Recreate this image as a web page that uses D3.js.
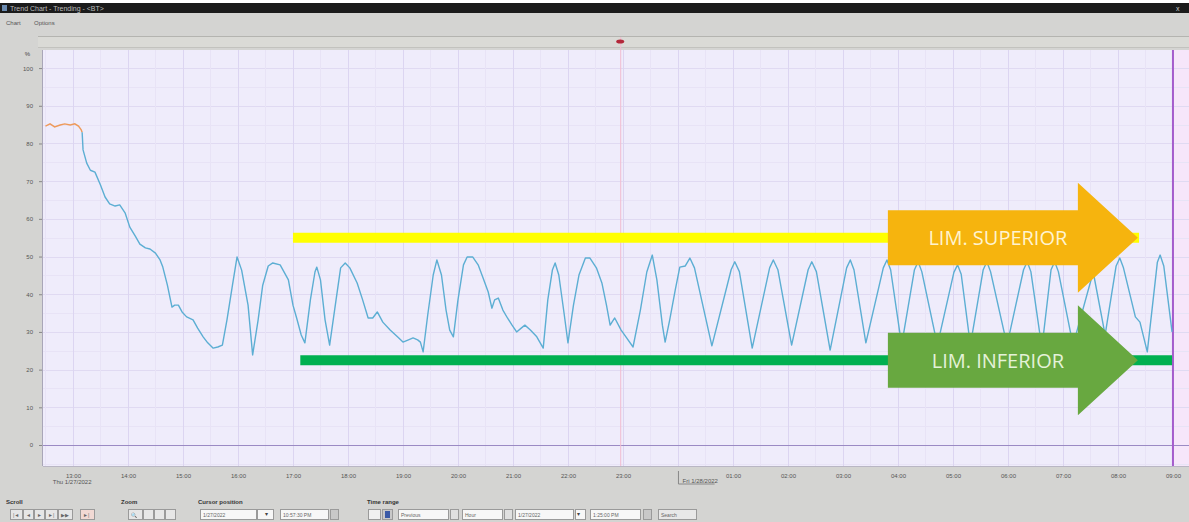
<!DOCTYPE html>
<html>
<head>
<meta charset="utf-8">
<script src="https://cdn.jsdelivr.net/npm/d3@7"></script>
<style>
  html, body { margin: 0; padding: 0; background: #fff; }
  svg { display: block; font-family: "Liberation Sans", Arial, sans-serif; }
</style>
</head>
<body>
<div id="chart"></div>
<script>
// time is minutes after 13:00 Thu 1/27/2022, value in %
const startupTimes = [-30, -25, -20, -14, -9, -3, 2, 6, 9, 10];
const startupValues = [84.6, 85.2, 84.4, 84.9, 85.2, 84.9, 85.2, 84.6, 83.6, 83.0];

const trendTimes = [
  10, 11, 15, 19, 24, 30, 35, 40, 46, 51, 57, 62, 68, 73, 79, 84, 90, 95, 98, 103,
  108, 111, 115, 119, 124, 131, 136, 142, 147, 153, 158, 163, 168, 174, 179, 184, 191, 196, 202, 207,
  213, 218, 226, 235, 240, 244, 249, 253, 259, 264, 266, 270, 275, 280, 287, 292, 297, 302, 310, 316,
  322, 327, 332, 338, 346, 354, 360, 366, 371, 376, 379, 382, 387, 393, 397, 402, 407, 411, 415, 420,
  426, 430, 436, 442, 447, 453, 457, 460, 464, 469, 474, 479, 484, 489, 493, 499, 506, 513, 518, 523,
  526, 530, 536, 540, 546, 552, 559, 564, 571, 577, 582, 586, 591, 598, 604, 611, 619, 626, 632, 637,
  643, 646, 651, 657, 662, 668, 673, 678, 697, 718, 722, 727, 741, 760, 764, 769, 784, 802, 806, 811,
  826, 844, 848, 852, 865, 884, 888, 892, 904, 918, 922, 926, 943, 961, 965, 969, 979, 993, 997, 1001,
  1019, 1037, 1041, 1045, 1057, 1067, 1071, 1075, 1091, 1113, 1126, 1138, 1142, 1146, 1159, 1164, 1172, 1183, 1186, 1190,
  1199
];
const trendValues = [
  83.0, 78.3, 74.8, 72.9, 72.4, 69.0, 65.8, 64.0, 63.4, 63.7, 61.5, 57.8, 55.4, 53.3, 52.3, 52.0, 50.9, 49.1, 47.2, 42.4,
  36.6, 37.1, 37.1, 35.3, 34.0, 33.2, 31.0, 28.7, 27.1, 25.7, 26.0, 26.5, 33.2, 42.4, 49.9, 46.4, 37.1, 23.9, 33.2, 42.4,
  47.5, 48.3, 47.8, 43.8, 37.1, 33.7, 29.2, 27.1, 38.5, 45.9, 47.2, 43.8, 33.2, 26.5, 38.5, 47.0, 48.3, 47.0, 43.0, 38.5,
  33.7, 33.7, 35.3, 32.6, 30.5, 28.7, 27.3, 27.9, 28.4, 27.9, 27.3, 24.7, 34.5, 45.1, 49.1, 45.1, 35.8, 30.5, 28.7, 38.5,
  47.8, 49.9, 49.9, 47.8, 44.6, 40.6, 36.3, 38.5, 39.0, 35.8, 33.7, 31.8, 30.0, 31.0, 31.8, 30.5, 28.7, 25.7, 38.5, 46.4,
  48.3, 45.1, 34.5, 27.1, 37.1, 45.1, 49.6, 49.6, 47.0, 43.0, 37.1, 31.8, 33.7, 30.5, 28.4, 26.0, 35.8, 45.9, 50.4, 43.8,
  31.8, 27.3, 33.2, 41.1, 47.2, 47.5, 49.6, 47.0, 26.3, 46.5, 48.6, 46.0, 25.7, 47.0, 49.1, 46.5, 26.5, 46.5, 48.6, 46.0,
  25.2, 47.0, 49.1, 46.5, 27.1, 47.0, 49.1, 46.5, 26.5, 46.5, 48.6, 46.0, 26.5, 45.8, 47.8, 45.3, 26.5, 46.5, 48.6, 46.0,
  26.5, 46.5, 48.6, 46.0, 25.7, 46.5, 48.6, 46.0, 26.5, 45.9, 29.2, 47.5, 49.6, 47.0, 34.0, 32.6, 24.7, 48.5, 50.4, 47.5,
  30.0
];

const yTicks = [0, 10, 20, 30, 40, 50, 60, 70, 80, 90, 100];
const dayLabels = ["Thu 1/27/2022", "Fri 1/28/2022"];

const limitNames = ["LIM. SUPERIOR", "LIM. INFERIOR"];
const limitValues = [55, 22.5];
const limitStart = [240, 248];
const limitEnd = [1163, 1199];
const arrowStart = 889;
const cursorTime = 597;
const endTime = 1200;

const W = 1189, H = 522;
const plot = { left: 43, right: 1189, top: 50, bottom: 466 };
const base = new Date(2022, 0, 27, 13, 0);
const t = m => new Date(base.getTime() + m * 60000);

const svg = d3.select("#chart").append("svg")
  .attr("width", W).attr("height", H);

// window chrome
svg.append("rect").attr("width", W).attr("height", H).attr("fill", "#d4d4d2");
svg.append("rect").attr("width", W).attr("height", 3).attr("fill", "#fff");
svg.append("rect").attr("y", 3).attr("width", W).attr("height", 10).attr("fill", "#1b1b1b");
svg.append("rect").attr("x", 2).attr("y", 5).attr("width", 5).attr("height", 6).attr("fill", "#6a8ab0");
svg.append("text").attr("x", 10).attr("y", 11).attr("font-size", 7).attr("fill", "#bbb")
  .text("Trend Chart - Trending - <BT>");
svg.append("text").attr("x", 1176).attr("y", 11).attr("font-size", 7).attr("fill", "#ccc").text("x");
svg.append("text").attr("x", 6).attr("y", 25).attr("font-size", 6).attr("fill", "#555").text("Chart");
svg.append("text").attr("x", 34).attr("y", 25).attr("font-size", 6).attr("fill", "#555").text("Options");
svg.append("line").attr("x1", 38).attr("x2", W).attr("y1", 36.5).attr("y2", 36.5).attr("stroke", "#b4b4b0");
svg.append("rect").attr("x", 38).attr("y", 37).attr("width", W - 38).attr("height", 10).attr("fill", "#dadad6");
svg.append("line").attr("x1", 38).attr("x2", W).attr("y1", 47.5).attr("y2", 47.5).attr("stroke", "#c2c2be");

const x = d3.scaleTime()
  .domain([t(-32.7), t(1217.5)])
  .range([plot.left, plot.right]);
const y = d3.scaleLinear()
  .domain([-5.57, 104.8])
  .range([plot.bottom, plot.top]);

// plot background
svg.append("rect").attr("x", plot.left).attr("y", plot.top)
  .attr("width", plot.right - plot.left).attr("height", plot.bottom - plot.top)
  .attr("fill", "#efecfb");
svg.append("rect").attr("x", x(t(endTime))).attr("y", plot.top)
  .attr("width", plot.right - x(t(endTime))).attr("height", plot.bottom - plot.top)
  .attr("fill", "#f6e6fa");

// grid
const grid = svg.append("g");
grid.selectAll(".hminor").data(d3.range(-5, 105, 5))
  .enter().append("line")
  .attr("x1", plot.left).attr("x2", plot.right)
  .attr("y1", d => Math.round(y(d)) + 0.5).attr("y2", d => Math.round(y(d)) + 0.5)
  .attr("stroke", d => d % 10 === 0 ? "#e0daf2" : "#e8e3f6");
grid.selectAll(".vminor").data(x.ticks(d3.timeMinute.every(30)))
  .enter().append("line")
  .attr("x1", d => Math.round(x(d)) + 0.5).attr("x2", d => Math.round(x(d)) + 0.5)
  .attr("y1", plot.top).attr("y2", plot.bottom)
  .attr("stroke", d => d.getMinutes() === 0 ? "#dcd5f1" : "#e8e3f6");
grid.append("line")
  .attr("x1", plot.left).attr("x2", plot.right)
  .attr("y1", Math.round(y(0)) + 0.5).attr("y2", Math.round(y(0)) + 0.5)
  .attr("stroke", "#9b8ac4");

// plot frame
svg.append("line").attr("x1", plot.left - 0.5).attr("x2", plot.left - 0.5)
  .attr("y1", plot.top).attr("y2", plot.bottom).attr("stroke", "#a9a6b8");
svg.append("line").attr("x1", plot.left).attr("x2", plot.right)
  .attr("y1", plot.bottom + 0.5).attr("y2", plot.bottom + 0.5).attr("stroke", "#b9b6c4");

// y axis
const yAxis = svg.append("g")
  .attr("transform", `translate(${plot.left - 1},0)`)
  .call(d3.axisLeft(y).tickValues(yTicks).tickSize(3).tickPadding(6));
yAxis.select(".domain").remove();
yAxis.selectAll("line").attr("stroke", "#888");
yAxis.selectAll("text").attr("font-size", 6).attr("fill", "#555");
svg.append("text").attr("x", 30).attr("y", 56).attr("font-size", 6).attr("fill", "#444")
  .attr("text-anchor", "end").text("%");

// x axis
const xAxis = svg.append("g")
  .attr("transform", `translate(0,${plot.bottom})`)
  .call(d3.axisBottom(x).ticks(d3.timeHour.every(1)).tickSize(0).tickPadding(8)
    .tickFormat(d => d.getHours() === 0 ? "" : d3.timeFormat("%H:%M")(d)));
xAxis.select(".domain").remove();
xAxis.selectAll("text").attr("font-size", 6).attr("fill", "#555");
svg.append("text").attr("x", x(t(-22))).attr("y", 484).attr("font-size", 6).attr("fill", "#555")
  .text(dayLabels[0]);
svg.append("path")
  .attr("d", `M${x(t(660)) + 0.5},471 V484 H${x(t(700))}`)
  .attr("fill", "none").attr("stroke", "#888");
svg.append("text").attr("x", x(t(665))).attr("y", 483).attr("font-size", 6).attr("fill", "#555")
  .text(dayLabels[1]);

// cursor and end marker
svg.append("line").attr("x1", x(t(cursorTime)) + 0.5).attr("x2", x(t(cursorTime)) + 0.5)
  .attr("y1", 37).attr("y2", plot.bottom).attr("stroke", "#f1bcd0");
svg.append("ellipse").attr("cx", x(t(cursorTime))).attr("cy", 41.5).attr("rx", 4).attr("ry", 2)
  .attr("fill", "#b3283a");
svg.append("line").attr("x1", x(t(endTime))).attr("x2", x(t(endTime)))
  .attr("y1", plot.top).attr("y2", plot.bottom).attr("stroke", "#a55ccc").attr("stroke-width", 2);

// limit bars
svg.selectAll(".limit").data(limitValues)
  .enter().append("line")
  .attr("x1", (d, i) => x(t(limitStart[i]))).attr("x2", (d, i) => x(t(limitEnd[i])))
  .attr("y1", d => y(d)).attr("y2", d => y(d))
  .attr("stroke", (d, i) => i === 0 ? "#ffff00" : "#00b050")
  .attr("stroke-width", 10);

// trend lines
const line = d3.line().x(d => x(t(d[0]))).y(d => y(d[1]));
svg.append("path").datum(d3.zip(startupTimes, startupValues))
  .attr("d", line).attr("fill", "none").attr("stroke", "#ee9a5a").attr("stroke-width", 1.4);
svg.append("path").datum(d3.zip(trendTimes, trendValues))
  .attr("d", line).attr("fill", "none").attr("stroke", "#5caed3").attr("stroke-width", 1.4)
  .attr("stroke-linejoin", "round");

// arrows
const arrowColors = ["#f6b40e", "#68a840"];
const textColors = ["#fff3cf", "#e4f2d8"];
limitNames.forEach((name, i) => {
  const x0 = x(t(arrowStart));
  const yc = y(limitValues[i]);
  const bh = 27.5, hh = 55, bl = 190, hl = 60;
  const g = svg.append("g");
  g.append("path")
    .attr("d", `M${x0},${yc - bh} H${x0 + bl} V${yc - hh} L${x0 + bl + hl},${yc} L${x0 + bl},${yc + hh} V${yc + bh} H${x0} Z`)
    .attr("fill", arrowColors[i]);
  g.append("text")
    .attr("x", x0 + 110).attr("y", yc + 7.5)
    .attr("text-anchor", "middle")
    .attr("font-family", "'Open Sans', sans-serif")
    .attr("font-size", 20)
    .attr("fill", textColors[i])
    .text(name);
});

// bottom toolbar
const tb = svg.append("g").attr("font-size", 6).attr("fill", "#333");
[["Scroll", 6], ["Zoom", 121], ["Cursor position", 198], ["Time range", 367]].forEach(d => {
  tb.append("text").attr("x", d[1]).attr("y", 504).attr("font-weight", "bold").text(d[0]);
});
function box(x0, w, fill, label) {
  tb.append("rect").attr("x", x0 + 0.5).attr("y", 509.5).attr("width", w).attr("height", 10)
    .attr("fill", fill).attr("stroke", "#9a9a9a");
  if (label) tb.append("text").attr("x", x0 + 3).attr("y", 517).attr("font-size", 5).attr("fill", "#666").text(label);
}
box(10, 12, "#e6e6e6", "|◄"); box(23, 10, "#e6e6e6", "◄"); box(34, 10, "#e6e6e6", "►");
box(45, 12, "#e6e6e6", "►|"); box(58, 14, "#e6e6e6", "▶▶"); box(80, 14, "#f1d9d4", "►|");
box(128, 14, "#e6e6e6", "🔍"); box(143, 10, "#e6e6e6", ""); box(154, 10, "#e6e6e6", ""); box(165, 10, "#e6e6e6", "");
box(200, 56, "#f7f7f7", "1/27/2022"); box(257, 16, "#f7f7f7", "");
tb.append("text").attr("x", 265).attr("y", 516).attr("fill", "#444").text("▾");
box(280, 48, "#f7f7f7", "10:57:30 PM"); box(330, 8, "#c8c8c8", "");
box(368, 12, "#f0f0f0", ""); box(382, 10, "#c8c8c8", "");
tb.append("rect").attr("x", 385).attr("y", 511).attr("width", 5).attr("height", 7).attr("fill", "#3b5aa6");
box(398, 50, "#f7f7f7", "Previous"); box(450, 8, "#e0e0e0", "");
box(462, 40, "#f7f7f7", "Hour"); box(504, 8, "#e0e0e0", "");
box(515, 58, "#f7f7f7", "1/27/2022"); box(575, 10, "#f7f7f7", "");
tb.append("text").attr("x", 577).attr("y", 516).attr("fill", "#444").text("▾");
box(590, 50, "#f7f7f7", "1:25:00 PM"); box(643, 8, "#c8c8c8", "");
box(658, 38, "#e8e8e8", "Search");
</script>
</body>
</html>
